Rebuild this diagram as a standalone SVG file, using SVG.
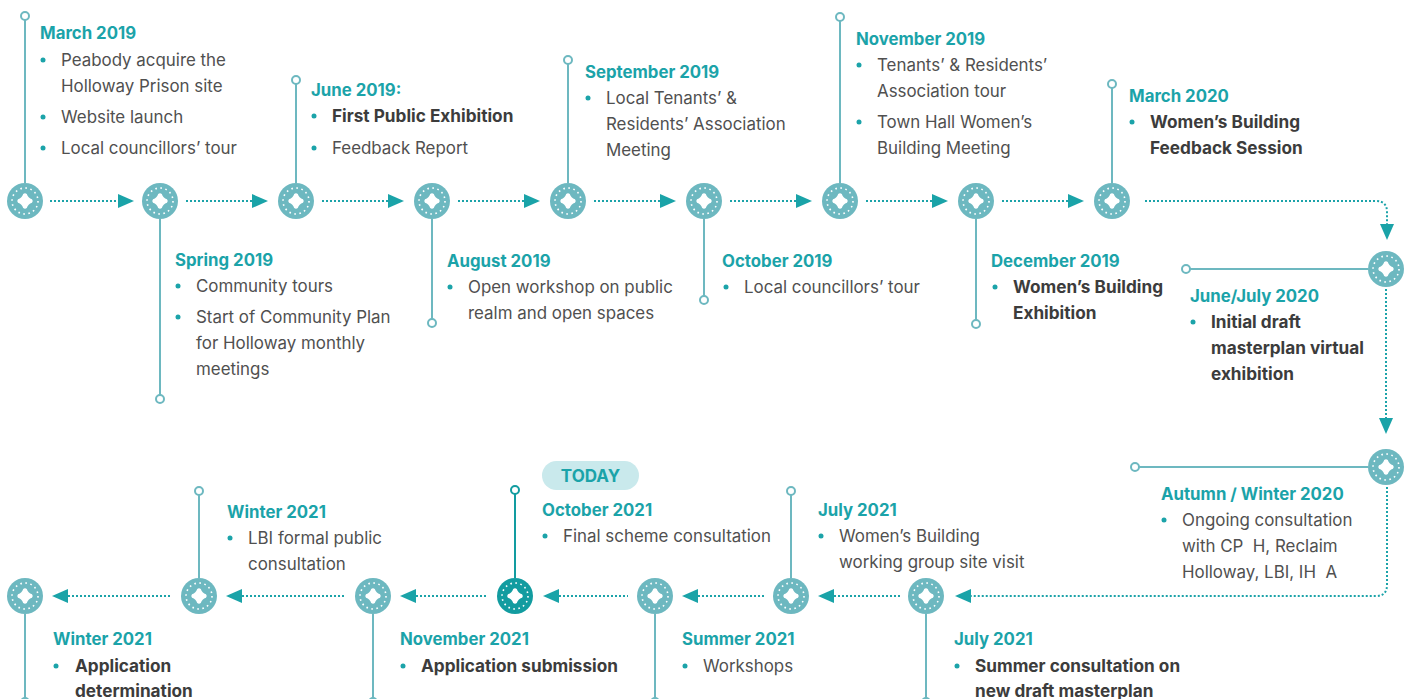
<svg xmlns="http://www.w3.org/2000/svg" width="1410" height="699" viewBox="0 0 1410 699">
<defs>
<style>
.h{font-family:Inter,"Liberation Sans",sans-serif;font-weight:700;font-size:16.8px;fill:#1ba3a9;}
.t{font-family:Inter,"Liberation Sans",sans-serif;font-size:16.9px;fill:#505050;}
.b{font-family:Inter,"Liberation Sans",sans-serif;font-weight:700;font-size:17.2px;fill:#3c3c3c;}
.dot{fill:#1ba3a9;}
.stem{stroke:#6db8c0;stroke-width:2;fill:none;}
.end{fill:#fff;stroke:#6db8c0;stroke-width:2;}
.con{stroke:#1ba3a9;stroke-width:2;stroke-dasharray:2 2;fill:none;}
.ah{fill:#1aa3a8;}
</style>
<path id="qf" fill="#fff" d="M-1.8,-7 Q0,-8.5 1.8,-7 Q3,-3 7,-1.8 Q8.5,0 7,1.8 Q3,3 1.8,7 Q0,8.5 -1.8,7 Q-3,3 -7,1.8 Q-8.5,0 -7,-1.8 Q-3,-3 -1.8,-7Z"/>
<g id="icon">
<circle r="18" fill="#6db8c0"/>
<circle r="13" fill="none" stroke="#fff" stroke-width="1.6" stroke-dasharray="1.6 3.5"/>
<use href="#qf"/>
</g>
<g id="iconD">
<circle r="18" fill="#129ca0"/>
<circle r="13" fill="none" stroke="#fff" stroke-width="1.6" stroke-dasharray="1.6 3.5"/>
<use href="#qf"/>
</g>
</defs>
<rect width="1410" height="699" fill="#fff"/>

<g id="connectors">
<path class="con" d="M50,201H118M186,201H252M322,201H388M458,201H524M594,201H660M730,201H796M866,201H932M1002,201H1068"/>
<polygon class="ah" points="118,194 134,201 118,208"/>
<polygon class="ah" points="252,194 268,201 252,208"/>
<polygon class="ah" points="388,194 404,201 388,208"/>
<polygon class="ah" points="524,194 540,201 524,208"/>
<polygon class="ah" points="660,194 676,201 660,208"/>
<polygon class="ah" points="796,194 812,201 796,208"/>
<polygon class="ah" points="932,194 948,201 932,208"/>
<polygon class="ah" points="1068,194 1084,201 1068,208"/>
<path class="con" d="M1145,201H1376Q1387,201 1387,212V224"/>
<polygon class="ah" points="1380,224 1394,224 1387,240"/>
<path class="con" d="M1386,289V418"/>
<polygon class="ah" points="1379,418 1393,418 1386,434"/>
<path class="con" d="M1387,487V585Q1387,596 1376,596H971"/>
<polygon class="ah" points="971,589 955,596 971,603"/>
<path class="con" d="M834,596H900M698,596H765M559,596H628M416,596H488M242,596H345M68,596H172"/>
<polygon class="ah" points="834,589 818,596 834,603"/>
<polygon class="ah" points="698,589 682,596 698,603"/>
<polygon class="ah" points="559,589 543,596 559,603"/>
<polygon class="ah" points="416,589 400,596 416,603"/>
<polygon class="ah" points="242,589 226,596 242,603"/>
<polygon class="ah" points="68,589 52,596 68,603"/>
</g>

<g id="n-mar2019">
<path class="stem" d="M25,20V183"/><circle class="end" cx="25" cy="16" r="4"/>
<use href="#icon" x="25" y="201"/>
<text class="h" x="40" y="39">March 2019</text>
<circle class="dot" cx="43" cy="60" r="2.5"/><text class="t" x="61" y="66">Peabody acquire the</text>
<text class="t" x="61" y="92">Holloway Prison site</text>
<circle class="dot" cx="43" cy="117" r="2.5"/><text class="t" x="61" y="123">Website launch</text>
<circle class="dot" cx="43" cy="148" r="2.5"/><text class="t" x="61" y="154">Local councillors’ tour</text>
</g>

<g id="n-spring2019">
<path class="stem" d="M160,219V395"/><circle class="end" cx="160" cy="399" r="4"/>
<use href="#icon" x="160" y="201"/>
<text class="h" x="175" y="266">Spring 2019</text>
<circle class="dot" cx="178" cy="286" r="2.5"/><text class="t" x="196" y="292">Community tours</text>
<circle class="dot" cx="178" cy="317" r="2.5"/><text class="t" x="196" y="323">Start of Community Plan</text>
<text class="t" x="196" y="349">for Holloway monthly</text>
<text class="t" x="196" y="375">meetings</text>
</g>

<g id="n-jun2019">
<path class="stem" d="M296,84V183"/><circle class="end" cx="296" cy="80" r="4"/>
<use href="#icon" x="296" y="201"/>
<text class="h" x="311" y="96">June 2019:</text>
<circle class="dot" cx="314" cy="116" r="2.5"/><text class="b" x="332" y="122">First Public Exhibition</text>
<circle class="dot" cx="314" cy="148" r="2.5"/><text class="t" x="332" y="154">Feedback Report</text>
</g>

<g id="n-aug2019">
<path class="stem" d="M432,219V319"/><circle class="end" cx="432" cy="323" r="4"/>
<use href="#icon" x="432" y="201"/>
<text class="h" x="447" y="267">August 2019</text>
<circle class="dot" cx="450" cy="287" r="2.5"/><text class="t" x="468" y="293">Open workshop on public</text>
<text class="t" x="468" y="319">realm and open spaces</text>
</g>

<g id="n-sep2019">
<path class="stem" d="M568,64V183"/><circle class="end" cx="568" cy="60" r="4"/>
<use href="#icon" x="568" y="201"/>
<text class="h" x="585" y="78">September 2019</text>
<circle class="dot" cx="588" cy="98" r="2.5"/><text class="t" x="606" y="104">Local Tenants’ &amp;</text>
<text class="t" x="606" y="130">Residents’ Association</text>
<text class="t" x="606" y="156">Meeting</text>
</g>

<g id="n-oct2019">
<path class="stem" d="M704,219V296"/><circle class="end" cx="704" cy="300" r="4"/>
<use href="#icon" x="704" y="201"/>
<text class="h" x="722" y="267">October 2019</text>
<circle class="dot" cx="726" cy="287" r="2.5"/><text class="t" x="744" y="293">Local councillors’ tour</text>
</g>

<g id="n-nov2019">
<path class="stem" d="M840,21V183"/><circle class="end" cx="840" cy="17" r="4"/>
<use href="#icon" x="840" y="201"/>
<text class="h" x="856" y="45">November 2019</text>
<circle class="dot" cx="859" cy="65" r="2.5"/><text class="t" x="877" y="71">Tenants’ &amp; Residents’</text>
<text class="t" x="877" y="97">Association tour</text>
<circle class="dot" cx="859" cy="122" r="2.5"/><text class="t" x="877" y="128">Town Hall Women’s</text>
<text class="t" x="877" y="154">Building Meeting</text>
</g>

<g id="n-dec2019">
<path class="stem" d="M976,219V320"/><circle class="end" cx="976" cy="324" r="4"/>
<use href="#icon" x="976" y="201"/>
<text class="h" x="991" y="267">December 2019</text>
<circle class="dot" cx="995" cy="287" r="2.5"/><text class="b" x="1013" y="293">Women’s Building</text>
<text class="b" x="1013" y="319">Exhibition</text>
</g>

<g id="n-mar2020">
<path class="stem" d="M1112,88V183"/><circle class="end" cx="1112" cy="84" r="4"/>
<use href="#icon" x="1112" y="201"/>
<text class="h" x="1129" y="102">March 2020</text>
<circle class="dot" cx="1132" cy="122" r="2.5"/><text class="b" x="1150" y="128">Women’s Building</text>
<text class="b" x="1150" y="154">Feedback Session</text>
</g>

<g id="n-junjul2020">
<path class="stem" d="M1190,269H1368"/><circle class="end" cx="1186" cy="269" r="4"/>
<use href="#icon" x="1386" y="269"/>
<text class="h" x="1190" y="302">June/July 2020</text>
<circle class="dot" cx="1193" cy="322" r="2.5"/><text class="b" x="1211" y="328">Initial draft</text>
<text class="b" x="1211" y="354">masterplan virtual</text>
<text class="b" x="1211" y="380">exhibition</text>
</g>

<g id="n-autwin2020">
<path class="stem" d="M1139,467H1368"/><circle class="end" cx="1135" cy="467" r="4"/>
<use href="#icon" x="1386" y="467"/>
<text class="h" x="1161" y="500">Autumn / Winter 2020</text>
<circle class="dot" cx="1164" cy="520" r="2.5"/><text class="t" x="1182" y="526">Ongoing consultation</text>
<text class="t" x="1182" y="552">with CP&#160;&#160;H, Reclaim</text>
<text class="t" x="1182" y="578">Holloway, LBI, IH&#160;&#160;A</text>
</g>

<g id="n-jul2021b">
<path class="stem" d="M926,614V699"/><circle class="end" cx="926" cy="702" r="4"/>
<use href="#icon" x="926" y="596"/>
<text class="h" x="954" y="645">July 2021</text>
<circle class="dot" cx="957" cy="666" r="2.5"/><text class="b" x="975" y="672">Summer consultation on</text>
<text class="b" x="975" y="697">new draft masterplan</text>
</g>

<g id="n-jul2021a">
<path class="stem" d="M791,495V578"/><circle class="end" cx="791" cy="491" r="4"/>
<use href="#icon" x="791" y="596"/>
<text class="h" x="818" y="516">July 2021</text>
<circle class="dot" cx="821" cy="536" r="2.5"/><text class="t" x="839" y="542">Women’s Building</text>
<text class="t" x="839" y="568">working group site visit</text>
</g>

<g id="n-sum2021">
<path class="stem" d="M655,614V699"/><circle class="end" cx="655" cy="702" r="4"/>
<use href="#icon" x="655" y="596"/>
<text class="h" x="682" y="645">Summer 2021</text>
<circle class="dot" cx="685" cy="666" r="2.5"/><text class="t" x="703" y="672">Workshops</text>
</g>

<g id="n-oct2021">
<rect x="542" y="461" width="97" height="29" rx="14.5" fill="#c9e9ec"/>
<text x="590.5" y="482" text-anchor="middle" font-family="Inter,'Liberation Sans',sans-serif" font-weight="700" font-size="17" fill="#1ba3a9">TODAY</text>
<path d="M515,494V578" stroke="#129ca0" stroke-width="2" fill="none"/><circle cx="515" cy="490" r="4" fill="#fff" stroke="#129ca0" stroke-width="2"/>
<use href="#iconD" x="515" y="596"/>
<text class="h" x="542" y="516">October 2021</text>
<circle class="dot" cx="545" cy="536" r="2.5"/><text class="t" x="563" y="542">Final scheme consultation</text>
</g>

<g id="n-nov2021">
<path class="stem" d="M373,614V699"/><circle class="end" cx="373" cy="702" r="4"/>
<use href="#icon" x="373" y="596"/>
<text class="h" x="400" y="645">November 2021</text>
<circle class="dot" cx="403" cy="666" r="2.5"/><text class="b" x="421" y="672">Application submission</text>
</g>

<g id="n-win2021a">
<path class="stem" d="M199,495V578"/><circle class="end" cx="199" cy="491" r="4"/>
<use href="#icon" x="199" y="596"/>
<text class="h" x="227" y="518">Winter 2021</text>
<circle class="dot" cx="230" cy="538" r="2.5"/><text class="t" x="248" y="544">LBI formal public</text>
<text class="t" x="248" y="570">consultation</text>
</g>

<g id="n-win2021b">
<path class="stem" d="M25,614V699"/><circle class="end" cx="25" cy="702" r="4"/>
<use href="#icon" x="25" y="596"/>
<text class="h" x="53" y="645">Winter 2021</text>
<circle class="dot" cx="56" cy="666" r="2.5"/><text class="b" x="75" y="672">Application</text>
<text class="b" x="75" y="697">determination</text>
</g>
</svg>
